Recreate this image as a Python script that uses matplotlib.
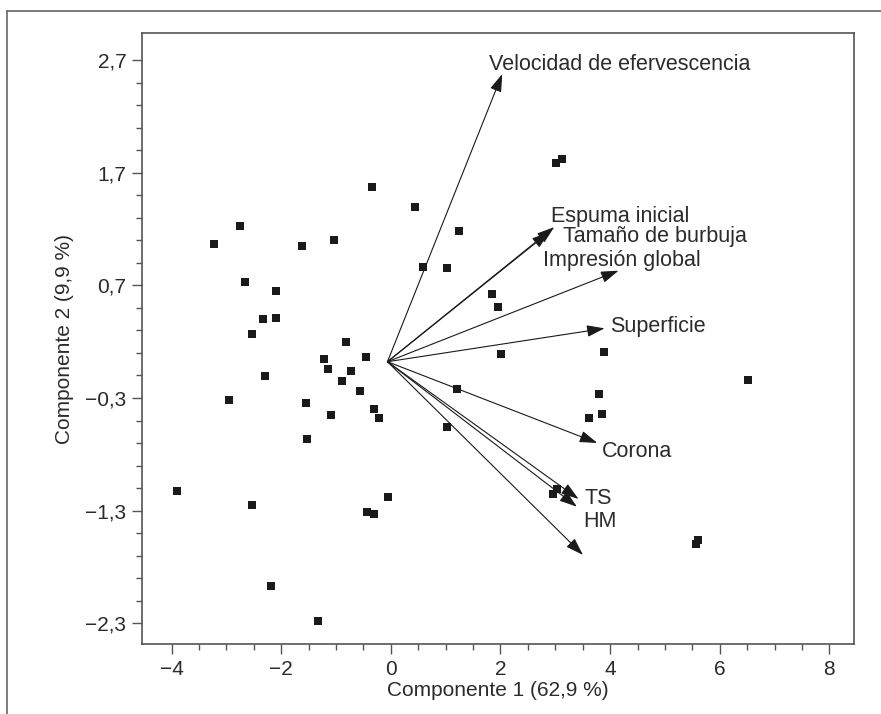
import matplotlib
matplotlib.use("Agg")
import matplotlib.pyplot as plt
from matplotlib.lines import Line2D
from matplotlib.patches import ArrowStyle
import numpy as np

# Scores (observations)
score_x = [-0.341, 0.443, -2.750, -3.224, -1.618, -1.035, 0.589, -2.659, -2.093,
           -2.330, -2.093, -2.531, -0.816, -1.217, -0.456, -1.144, -0.724, -2.294,
           -0.889, -0.560, -2.951, -1.546, -0.305, -1.100, -0.214, -1.527, -3.900,
           -2.531, -0.049, -0.432, -0.305, -2.184, -1.327, 3.016, 3.126, 1.246,
           1.027, 1.849, 1.958, 2.013, 3.892, 1.210, 6.520, 3.801, 3.856, 3.618,
           1.027, 3.034, 2.962, 5.608, 5.571]
score_y = [1.572, 1.395, 1.226, 1.066, 1.049, 1.102, 0.862, 0.729, 0.649,
           0.401, 0.410, 0.268, 0.197, 0.049, 0.066, -0.043, -0.060, -0.105,
           -0.149, -0.235, -0.318, -0.344, -0.395, -0.451, -0.475, -0.664, -1.125,
           -1.249, -1.178, -1.312, -1.329, -1.968, -2.279, 1.785, 1.821, 1.182,
           0.853, 0.623, 0.507, 0.090, 0.108, -0.220, -0.140, -0.265, -0.442, -0.477,
           -0.557, -1.107, -1.152, -1.560, -1.595]

# Loadings (variables)
origin = (-0.062, 0.022)
var_names = ["Velocidad de efervescencia", "Espuma inicial", "Tamaño de burbuja",
             "Impresión global", "Superficie", "Corona", "TS", "HM", ""]
var_x = [2.031, 2.980, 2.889, 4.153, 3.898, 3.765, 3.423, 3.394, 3.504]
var_y = [2.575, 1.217, 1.173, 0.830, 0.318, -0.699, -1.196, -1.265, -1.693]
label_x = [1.794, 2.927, 3.146, 2.779, 4.002, 3.856, 3.527, 3.509, 0]
label_y = [2.610, 1.264, 1.082, 0.874, 0.283, -0.821, -1.241, -1.442, 0]

xticks = [-4, -2, 0, 2, 4, 6, 8]
yticks = [-2.3, -1.3, -0.3, 0.7, 1.7, 2.7]


def fmt(v):
    s = f"{v:g}".replace(".", ",")
    return s.replace("-", "\u2212")


plt.rcParams["font.family"] = ["Liberation Sans", "DejaVu Sans"]
txt_col = "#2b2b2b"
ax_col = "#555555"

fig = plt.figure(figsize=(8.81, 7.14), dpi=100)
ax = fig.add_axes([0.1612, 0.0980, 0.8082, 0.8558])

# outer frame (cropped box)
fig.add_artist(Line2D([0.0079, 1.0], [0.9846, 0.9846], color="#666666", lw=1.2))
fig.add_artist(Line2D([0.0079, 0.0079], [0.0, 0.9846], color="#666666", lw=1.2))

ax.scatter(score_x, score_y, marker="s", s=40, color="#1a1a1a", linewidths=0, zorder=3)

style = ArrowStyle("-|>", head_length=0.6, head_width=0.2)
for name, vx, vy, lx, ly in zip(var_names, var_x, var_y, label_x, label_y):
    ax.annotate("", xy=(vx, vy), xytext=origin,
                arrowprops=dict(arrowstyle=style, mutation_scale=18, color="#1a1a1a",
                                lw=0.8, shrinkA=0, shrinkB=0))
    if name:
        ax.text(lx, ly, name, fontsize=15.5, color=txt_col, ha="left", va="baseline")

ax.set_xlim(-4.54, 8.45)
ax.set_ylim(-2.484, 2.94)

ax.set_xticks(xticks)
ax.set_xticklabels([fmt(v) for v in xticks])
ax.set_yticks(yticks)
ax.set_yticklabels([fmt(v) for v in yticks])
ax.set_xticks(np.arange(-4, 8.01, 0.5), minor=True)
ax.set_yticks(np.arange(-2.3, 2.71, 0.2), minor=True)

ax.tick_params(which="major", length=7.2, width=1, color=ax_col, labelsize=15,
               labelcolor=txt_col, pad=4)
ax.tick_params(which="minor", length=4.3, width=1, color=ax_col)

for sp in ax.spines.values():
    sp.set_color(ax_col)
    sp.set_linewidth(1.2)

ax.set_xlabel("Componente 1 (62,9 %)", fontsize=15, color=txt_col, labelpad=2)
ax.set_ylabel("Componente 2 (9,9 %)", fontsize=15, color=txt_col, labelpad=8)

fig.savefig("out.png", dpi=100)
